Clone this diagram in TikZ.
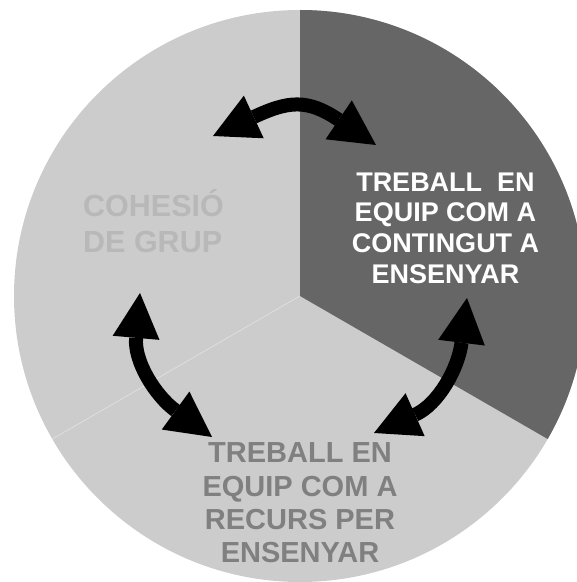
\documentclass[tikz,border=0pt]{standalone}
\usepackage{fontspec}
\setmainfont{Liberation Sans}
\usepackage{tikz}
\usetikzlibrary{arrows.meta}
\definecolor{lightpart}{HTML}{CCCCCC}
\definecolor{darkpart}{HTML}{666666}
\definecolor{cohesiotext}{HTML}{B8B8B8}
\definecolor{recurstext}{HTML}{808080}

\begin{document}
\begin{tikzpicture}[x=1pt,y=1pt]
			\tikzset{every node/.style={align=center,inner sep=0pt}}
			\tikzset{link/.style={line width=14pt,{Triangle[width=47pt,length=45pt,line width=0pt]}-{Triangle[width=47pt,length=45pt,line width=0pt]}}}
			\useasboundingbox (0,0) rectangle (577,582);
			\clip (0,0) rectangle (577,582);
			\coordinate (centre) at (300,286);
			\fill[lightpart] (centre) circle (286);
			\fill[darkpart] (centre) -- ++(90:286) arc (90:-30:286) -- cycle;
			\draw[white,opacity=0.45,line width=0.6pt] (centre) -- ++(210:286);
			\node[anchor=west,align=left,text=cohesiotext,font=\bfseries\fontsize{30.5}{36.3}\selectfont] (cohesio) at (83,361) {COHESIÓ\\DE GRUP};
			\node[text=white,font=\bfseries\fontsize{27}{30.6}\selectfont] (contingut) at (445.5,354) {TREBALL\ \ EN\\EQUIP COM A\\CONTINGUT A\\ENSENYAR};
			\node[text=recurstext,font=\bfseries\fontsize{29}{33.3}\selectfont] (recurs) at (300,79) {TREBALL EN\\EQUIP COM A\\RECURS PER\\ENSENYAR};
			\coordinate (top left) at (213,446);
			\coordinate (top right) at (376,437);
			\coordinate (left up) at (140,289);
			\coordinate (left down) at (212,145);
			\coordinate (right up) at (467,284);
			\coordinate (right down) at (374,149);
			\draw[link] (top left) to[out=25,in=146,looseness=1.3] (top right);
			\draw[link] (left up) to[out=265,in=144,looseness=1.1] (left down);
			\draw[link] (right up) to[out=263,in=24,looseness=1.1] (right down);
\end{tikzpicture}
\end{document}
